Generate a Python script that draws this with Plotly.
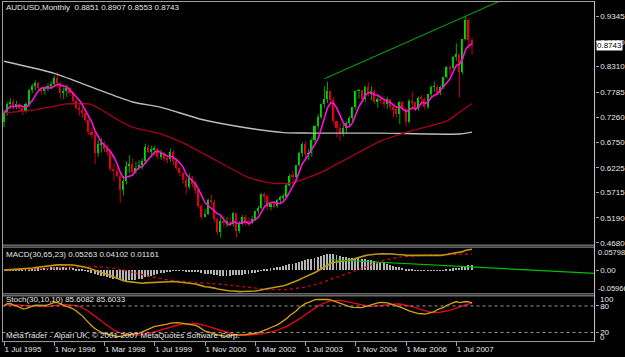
import plotly.graph_objects as go
import pandas as pd

W, H = 625, 357

# ---------------- data (monthly AUDUSD, Jul 1995 .. Dec 2007) ----------------
OPEN = [
.7150,.7350,.7520,.7580,.7480,.7520,
.7440,.7380,.7520,.7820,.7900,.7970,
.7860,.7800,.7850,.7900,.7950,.8060,
.7970,.7750,.7800,.7860,.7760,.7600,
.7450,.7410,.7350,.7200,.6950,.6900,
.6510,.6700,.6720,.6610,.6530,.6200,
.6150,.6050,.5750,.5950,.6250,.6300,
.6120,.6220,.6270,.6350,.6650,.6550,
.6600,.6600,.6440,.6510,.6400,.6390,
.6550,.6360,.6220,.6100,.5970,.5810,
.6000,.5880,.5760,.5420,.5210,.5270,
.5560,.5500,.5150,.4900,.5110,.5080,
.5100,.5050,.5280,.4920,.5050,.5200,
.5100,.5080,.5150,.5320,.5390,.5670,
.5630,.5400,.5460,.5420,.5550,.5610,
.5620,.5870,.6050,.6030,.6270,.6510,
.6700,.6500,.6510,.6780,.7080,.7260,
.7520,.7640,.7800,.7610,.7170,.7030,
.6930,.7040,.7130,.7240,.7460,.7800,
.7810,.7640,.7880,.7730,.7790,.7580,
.7640,.7600,.7520,.7630,.7460,.7420,
.7330,.7580,.7420,.7160,.7590,.7570,
.7420,.7660,.7640,.7460,.7730,.7880,
.7890,.7760,.7890,.8080,.8290,.8270,
.8490,.8550,.8190,.8870,.9260,.8851]

HIGH = [
.7420,.7580,.7660,.7640,.7600,.7560,
.7480,.7580,.7850,.7960,.8020,.7990,
.7900,.7900,.7960,.8000,.8130,.8190,
.8000,.7880,.7940,.7900,.7800,.7640,
.7530,.7480,.7400,.7260,.7050,.6950,
.6800,.6830,.6770,.6700,.6600,.6320,
.6250,.6120,.6050,.6360,.6480,.6420,
.6350,.6380,.6420,.6720,.6700,.6680,
.6680,.6640,.6600,.6560,.6470,.6620,
.6600,.6420,.6250,.6150,.6050,.6110,
.6060,.5960,.5800,.5470,.5370,.5590,
.5680,.5560,.5200,.5260,.5240,.5210,
.5220,.5310,.5300,.5130,.5250,.5260,
.5200,.5230,.5340,.5440,.5700,.5720,
.5680,.5500,.5530,.5580,.5650,.5690,
.5900,.6100,.6160,.6290,.6560,.6750,
.6770,.6620,.6850,.7100,.7330,.7550,
.7900,.7998,.7800,.7690,.7180,.7150,
.7150,.7180,.7290,.7480,.7800,.7850,
.7830,.7920,.7990,.7900,.7850,.7700,
.7700,.7700,.7690,.7640,.7520,.7470,
.7600,.7600,.7450,.7640,.7790,.7580,
.7700,.7730,.7680,.7740,.7920,.8000,
.7940,.7920,.8100,.8320,.8340,.8530,
.8790,.8580,.8880,.9345,.9310,.8907]

LOW = [
.7060,.7300,.7440,.7420,.7430,.7380,
.7310,.7360,.7480,.7760,.7820,.7800,
.7720,.7730,.7800,.7840,.7900,.7880,
.7650,.7640,.7680,.7700,.7550,.7420,
.7300,.7260,.7160,.6900,.6830,.6300,
.6450,.6540,.6550,.6480,.6150,.5960,
.6020,.5500,.5650,.5880,.6120,.6100,
.6100,.6180,.6190,.6300,.6520,.6450,
.6480,.6400,.6390,.6350,.6320,.6350,
.6280,.6170,.6050,.5900,.5680,.5780,
.5820,.5680,.5380,.5160,.5200,.5250,
.5460,.5100,.4840,.4780,.4990,.5000,
.5030,.5010,.4780,.4880,.5040,.5030,
.5020,.5060,.5130,.5280,.5380,.5500,
.5350,.5350,.5380,.5400,.5500,.5560,
.5610,.5830,.5900,.5980,.6250,.6450,
.6420,.6380,.6450,.6730,.7020,.7230,
.7460,.7560,.7570,.7110,.6850,.6780,
.6870,.6950,.7060,.7190,.7420,.7650,
.7570,.7580,.7690,.7620,.7540,.7460,
.7540,.7460,.7440,.7420,.7260,.7260,
.7120,.7400,.7070,.7150,.7430,.7390,
.7400,.7520,.7420,.7440,.7680,.7790,
.7720,.7720,.7850,.8060,.8140,.8260,
.8430,.7677,.8150,.8850,.8677,.8553]

CLOSE = [
.7350,.7520,.7580,.7480,.7520,.7440,
.7380,.7520,.7820,.7900,.7970,.7860,
.7800,.7850,.7900,.7950,.8060,.7970,
.7750,.7800,.7860,.7760,.7600,.7450,
.7410,.7350,.7200,.6950,.6900,.6510,
.6700,.6720,.6610,.6530,.6200,.6150,
.6050,.5750,.5950,.6250,.6300,.6120,
.6220,.6270,.6350,.6650,.6550,.6600,
.6600,.6440,.6510,.6400,.6390,.6550,
.6360,.6220,.6100,.5970,.5810,.6000,
.5880,.5760,.5420,.5210,.5270,.5560,
.5500,.5150,.4900,.5110,.5080,.5100,
.5050,.5280,.4920,.5050,.5200,.5100,
.5080,.5150,.5320,.5390,.5670,.5630,
.5400,.5460,.5420,.5550,.5610,.5620,
.5870,.6050,.6030,.6270,.6510,.6700,
.6500,.6510,.6780,.7080,.7260,.7520,
.7640,.7800,.7610,.7170,.7030,.6930,
.7040,.7130,.7240,.7460,.7800,.7810,
.7640,.7880,.7730,.7790,.7580,.7640,
.7600,.7520,.7630,.7460,.7420,.7330,
.7580,.7420,.7160,.7590,.7570,.7420,
.7660,.7640,.7460,.7730,.7880,.7890,
.7760,.7890,.8080,.8290,.8270,.8490,
.8550,.8190,.8870,.9260,.8851,.8743]

# long moving averages (bar index, value)
MA_RED_IDX = [0, 10, 20, 27, 31, 36, 41, 50, 57, 68, 78, 86, 92, 97, 101, 112, 120, 130, 141, 145, 149]
MA_RED_VAL = [0.736, 0.742, 0.754, 0.754, 0.742, 0.722, 0.706, 0.692, 0.674, 0.636, 0.602, 0.590, 0.592,
              0.603, 0.613, 0.651, 0.678, 0.699, 0.719, 0.737, 0.755]
MA_GRAY_IDX = [0, 16, 31, 41, 50, 63, 78, 89, 98, 120, 145, 149]
MA_GRAY_VAL = [0.842, 0.817, 0.781, 0.758, 0.747, 0.722, 0.704, 0.695, 0.694, 0.694, 0.692, 0.696]

# trend lines (bar index, value)
TREND_PRICE_IDX = [102, 170]
TREND_PRICE_VAL = [0.806, 1.001]
TREND_MACD_IDX = [104, 188.5]
TREND_MACD_VAL = [0.0262, -0.0082]

PRICE_TICKS = [0.4680, 0.5190, 0.5715, 0.6225, 0.6750, 0.7260, 0.7785, 0.8310, 0.8820, 0.9345]
DATE_TICK_IDX = [0, 16, 32, 48, 64, 80, 96, 112, 128, 144]
DATE_TICK_TXT = ["1 Jul 1995", "1 Nov 1996", "1 Mar 1998", "1 Jul 1999", "1 Nov 2000",
                 "1 Mar 2002", "1 Jul 2003", "1 Nov 2004", "1 Mar 2006", "1 Jul 2007"]

MACD_TOP, MACD_BOT = 0.05798, -0.05966

# ---------------- indicators ----------------
df = pd.DataFrame({"o": OPEN, "h": HIGH, "l": LOW, "c": CLOSE})
idx = list(range(len(df)))
ma_fast = df.c.rolling(5, min_periods=1).mean()
ema30 = df.c.ewm(span=30, adjust=False).mean()
ema65 = df.c.ewm(span=65, adjust=False).mean()
macd = ema30 - ema65
signal = macd.rolling(23, min_periods=1).mean()
hist = macd - signal
ll = df.l.rolling(30, min_periods=1).min()
hh = df.h.rolling(30, min_periods=1).max()
k = 100 * (df.c - ll).rolling(10, min_periods=1).sum() / (hh - ll).rolling(10, min_periods=1).sum()
d = k.rolling(10, min_periods=1).mean()

# ---------------- figure ----------------
def px_x(p):
    return p / W

def px_y(p):
    return 1 - p / H

FONT = "Liberation Sans, Arial, sans-serif"
TXT = "#E6E6E6"
FRAME = "#A0A0A0"

fig = go.Figure()

# wicks
for up, col in ((True, "#00A800"), (False, "#C00018")):
    xs, ys = [], []
    for i in idx:
        if (df.c[i] >= df.o[i]) == up:
            xs += [i, i, None]
            ys += [df.l[i], df.h[i], None]
    fig.add_trace(go.Scatter(x=xs, y=ys, mode="lines", line=dict(color=col, width=1),
                             hoverinfo="skip", yaxis="y"))

# bodies
for up, col in ((True, "#00E000"), (False, "#F0001C")):
    sel = [i for i in idx if (df.c[i] >= df.o[i]) == up]
    fig.add_trace(go.Bar(x=sel,
                         y=[max(abs(df.c[i] - df.o[i]), 0.0015) for i in sel],
                         base=[min(df.c[i], df.o[i]) for i in sel],
                         width=0.66, marker=dict(color=col, line=dict(width=0)),
                         yaxis="y"))

# moving averages
fig.add_trace(go.Scatter(x=MA_GRAY_IDX, y=MA_GRAY_VAL, mode="lines",
                         line=dict(color="#BDBDBD", width=1.4, shape="spline", smoothing=0.6), yaxis="y"))
fig.add_trace(go.Scatter(x=MA_RED_IDX, y=MA_RED_VAL, mode="lines",
                         line=dict(color="#A8001E", width=1.3, shape="spline", smoothing=0.6), yaxis="y"))
fig.add_trace(go.Scatter(x=idx, y=ma_fast, mode="lines",
                         line=dict(color="#FF10D8", width=1.6), yaxis="y"))
fig.add_trace(go.Scatter(x=TREND_PRICE_IDX, y=TREND_PRICE_VAL, mode="lines",
                         line=dict(color="#00B400", width=1), yaxis="y"))

# MACD panel
fig.add_trace(go.Bar(x=idx, y=hist, width=0.3, marker=dict(color="#B4B4B4", line=dict(width=0)),
                     yaxis="y2"))
fig.add_trace(go.Scatter(x=idx, y=signal, mode="lines",
                         line=dict(color="#D0001C", width=1.3, dash="dot"), yaxis="y2"))
fig.add_trace(go.Scatter(x=idx, y=macd, mode="lines",
                         line=dict(color="#C09810", width=1.6), yaxis="y2"))
fig.add_trace(go.Scatter(x=TREND_MACD_IDX, y=TREND_MACD_VAL, mode="lines",
                         line=dict(color="#00C000", width=1.2), yaxis="y2"))

# Stochastic panel
fig.add_trace(go.Scatter(x=idx, y=d, mode="lines", line=dict(color="#F00020", width=1.3), yaxis="y3"))
fig.add_trace(go.Scatter(x=idx, y=k, mode="lines", line=dict(color="#D4A410", width=1.3), yaxis="y3"))

shapes = []
# level lines in stochastic
for lv in (80, 20):
    shapes.append(dict(type="line", xref="paper", yref="y3", x0=px_x(2.5), x1=px_x(595.5), y0=lv, y1=lv,
                       line=dict(color="#9A9A9A", width=1, dash="dot")))
# frame lines
for yy in (1.5, 246.5, 248.5, 295.5, 297.5, 343.5):
    shapes.append(dict(type="line", xref="paper", yref="paper", x0=px_x(2), x1=px_x(596),
                       y0=px_y(yy), y1=px_y(yy), line=dict(color=FRAME, width=1)))
for xx, col in ((2.5, FRAME), (595.5, "#C8C8C8")):
    shapes.append(dict(type="line", xref="paper", yref="paper", x0=px_x(xx), x1=px_x(xx),
                       y0=px_y(1.5), y1=px_y(343.5), line=dict(color=col, width=1)))

def note(text, xp, yp, size=8, **kw):
    return dict(text=text, xref="paper", yref="paper", x=px_x(xp), y=px_y(yp), xanchor="left",
                yanchor="middle", showarrow=False, font=dict(family=FONT, size=size, color=TXT), **kw)

ann = [
    note("AUDUSD,Monthly\u00a0\u00a0%.4f %.4f %.4f %.4f" % (OPEN[-1], HIGH[-1], LOW[-1], CLOSE[-1]), 4, 7.5),
    note("MACD(30,65,23) 0.05263 0.04102 0.01161", 4, 255.5),
    note("Stoch(30,10,10) 85.6082 85.6033", 4, 301),
    note("MetaTrader - Alpari UK, \u00a9 2001-2007 MetaQuotes Software Corp.", 4, 337.5),
    note("%.5f" % MACD_TOP, 596.5, 254, size=7.5),
    note("%.5f" % MACD_BOT, 596.5, 290.5, size=7.5),
    note("100", 599, 301.5),
    note("0", 599, 339),
    dict(text="%.4f" % CLOSE[-1], xref="paper", yref="y", x=px_x(597), y=CLOSE[-1], xanchor="left",
         yanchor="middle", showarrow=False, bgcolor="#FFFFFF", borderpad=0,
         font=dict(family=FONT, size=8, color="#000000")),
]

axis_common = dict(showgrid=False, zeroline=False, showline=False, fixedrange=True,
                   tickfont=dict(family=FONT, size=8, color=TXT), tickcolor=FRAME)

fig.update_layout(
    width=W, height=H, margin=dict(l=0, r=0, t=0, b=0),
    paper_bgcolor="#000000", plot_bgcolor="#000000",
    showlegend=False, barmode="overlay", bargap=0, hovermode=False,
    xaxis=dict(domain=[px_x(2.5), px_x(595.5)], range=[-0.48, 188.0], anchor="y3",
               tickmode="array", tickvals=DATE_TICK_IDX, ticktext=DATE_TICK_TXT,
               ticks="outside", ticklen=4, ticklabelposition="outside right", **axis_common),
    yaxis=dict(domain=[px_y(246.5), px_y(1.5)], range=[0.4631, 0.9652], side="right", anchor="x",
               tickmode="array", tickvals=PRICE_TICKS, ticktext=["%.4f" % v for v in PRICE_TICKS],
               ticks="outside", ticklen=3, **axis_common),
    yaxis2=dict(domain=[px_y(295.5), px_y(248.5)], range=[MACD_BOT, MACD_TOP], side="right", anchor="x",
                tickmode="array", tickvals=[0], ticktext=["0.00"], ticks="outside", ticklen=3, **axis_common),
    yaxis3=dict(domain=[px_y(343.2), px_y(298.8)], range=[0, 100], side="right", anchor="x",
                tickmode="array", tickvals=[20, 80], ticktext=["20", "80"], ticks="outside", ticklen=3,
                **axis_common),
    shapes=shapes, annotations=ann,
)

fig.write_html("out.html")
